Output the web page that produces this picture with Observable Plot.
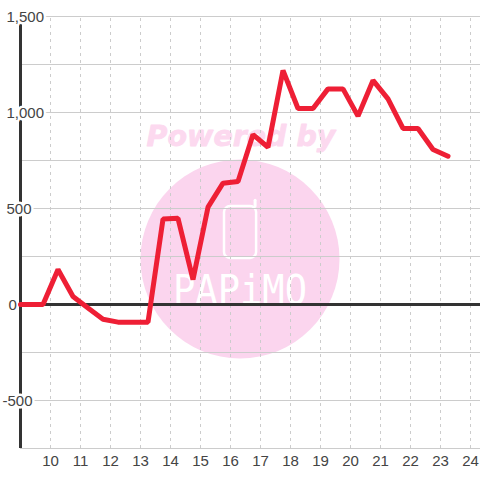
<!DOCTYPE html>
<html>
<head>
<meta charset="utf-8">
<script src="https://cdn.jsdelivr.net/npm/d3@7"></script>
<script src="https://cdn.jsdelivr.net/npm/@observablehq/plot@0.6"></script>
<style>html,body{margin:0;padding:0;background:#fff}svg{display:block}</style>
</head>
<body>
<div id="chart"></div>
<script>
const hours = [9,9.75,10.25,10.75,11.25,11.75,12.25,12.75,13.25,13.75,14.25,14.75,15.25,15.75,16.25,16.75,17.25,17.75,18.25,18.75,19.25,19.75,20.25,20.75,21.25,21.75,22.25,22.75,23.25];
const values = [0,0,182,42,-18,-77,-92,-92,-92,445,449,130,507,632,641,885,819,1219,1021,1021,1123,1123,981,1167,1071,917,917,807,772];
const xTicks = [10,11,12,13,14,15,16,17,18,19,20,21,22,23,24];
const yGrid = [-750,-500,-250,250,500,750,1000,1250,1500];
const yLabels = [1500,1000,500];
const yLabelText = ["1,500","1,000","500"];
const series = hours.map((h,i)=>({h,v:values[i]}));
const ink = "#444";
const pink = "#fbd5ee";
const textFont = "'Liberation Sans', Arial, sans-serif";

const chart = Plot.plot({
  width:480, height:480,
  marginLeft:20, marginRight:0, marginTop:16, marginBottom:32,
  style:{background:"#fff", fontFamily:textFont},
  x:{domain:[9,9+460/30], range:[20,480], axis:null},
  y:{domain:[-750,1500], range:[448,16], axis:null},
  marks:[
    // watermark
    Plot.dot([{x:16.317,y:237}],{x:"x",y:"y",r:99.5,fill:pink,stroke:null}),
    Plot.text(["Powered by"],{x:[16.35],y:[875],text:d=>d,fill:"#fcd9ef",stroke:"#fcd9ef",strokeWidth:0.8,fontSize:28.5,fontWeight:"bold",fontStyle:"italic",fontFamily:"'DejaVu Sans'"}),
    Plot.rect([{x1:15.8,x2:16.87,y1:240,y2:510}],{x1:"x1",x2:"x2",y1:"y1",y2:"y2",fill:"none",stroke:"#fff",strokeWidth:2.5,rx:6}),
    Plot.ruleX([16.82],{y1:510,y2:540,stroke:"#fff",strokeWidth:3,strokeLinecap:"round"}),
    Plot.text(["PAPiMO"],{x:[16.317],y:[73],text:d=>d,fill:"#fff",fontSize:41,fontFamily:"'DejaVu Sans Mono'",className:"logo"}),
    // grid
    Plot.ruleY(yGrid,{stroke:"#ccc",strokeWidth:1}),
    Plot.ruleX(xTicks,{y1:-750,y2:1500,stroke:"#ccc",strokeWidth:1,strokeDasharray:"3,4"}),
    // axes
    Plot.ruleX([9],{y1:-750,y2:1500,stroke:"#333",strokeWidth:3}),
    Plot.ruleY([0],{x1:9,x2:9+460/30,stroke:"#333",strokeWidth:3}),
    // y labels
    Plot.text(yLabels,{y:d=>d,frameAnchor:"left",dx:-14,dy:1,text:(d,i)=>yLabelText[i],textAnchor:"start",fill:ink,fontSize:15,stroke:"#fff",strokeWidth:5}),
    Plot.text(["0"],{y:[0],frameAnchor:"left",dx:-12,dy:1,text:d=>d,textAnchor:"start",fill:ink,fontSize:15}),
    Plot.text(["-500"],{y:[-500],frameAnchor:"left",dx:-18,dy:1,text:d=>d,textAnchor:"start",fill:ink,fontSize:15,stroke:"#fff",strokeWidth:5}),
    // x labels
    Plot.text(xTicks,{x:d=>d,y:-750,dy:13,text:d=>String(d),fill:ink,fontSize:15}),
    // series
    Plot.line(series,{x:"h",y:"v",stroke:"#ee1f35",strokeWidth:5,strokeLinejoin:"miter",curve:"linear"})
  ]
});
const logo = chart.querySelector(".logo text");
if (logo) { logo.setAttribute("textLength","134"); logo.setAttribute("lengthAdjust","spacingAndGlyphs"); }
document.getElementById("chart").appendChild(chart);
</script>
</body>
</html>
